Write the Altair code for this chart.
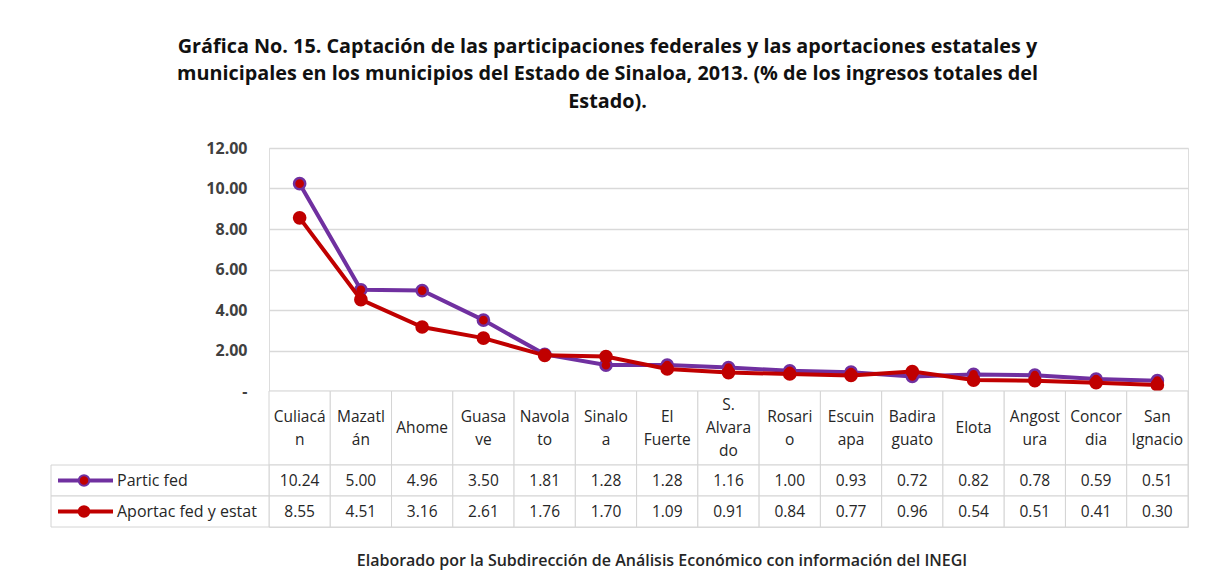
import altair as alt
import pandas as pd

# ---------------- data ----------------
categories = ["Culiacán", "Mazatlán", "Ahome", "Guasave", "Navolato", "Sinaloa",
              "El Fuerte", "S. Alvarado", "Rosario", "Escuinapa", "Badiraguato",
              "Elota", "Angostura", "Concordia", "San Ignacio"]
header_labels = ["Culiacá|n", "Mazatl|án", "Ahome", "Guasa|ve", "Navola|to", "Sinalo|a",
                 "El|Fuerte", "S.|Alvara|do", "Rosari|o", "Escuin|apa", "Badira|guato",
                 "Elota", "Angost|ura", "Concor|dia", "San|Ignacio"]
partic_fed = [10.24, 5.00, 4.96, 3.50, 1.81, 1.28, 1.28, 1.16, 1.00, 0.93, 0.72, 0.82, 0.78, 0.59, 0.51]
aportac_fed_estat = [8.55, 4.51, 3.16, 2.61, 1.76, 1.70, 1.09, 0.91, 0.84, 0.77, 0.96, 0.54, 0.51, 0.41, 0.30]
series_names = ["Partic fed", "Aportac fed y estat"]
series_colors = ["#7030A0", "#C00000"]
y_ticks = [0, 2, 4, 6, 8, 10, 12]
title_lines = [
    "Gráfica No. 15. Captación de las participaciones federales y las aportaciones estatales y",
    "municipales en los municipios del Estado de Sinaloa, 2013. (% de los ingresos totales del",
    "Estado).",
]
footer_text = "Elaborado por la Subdirección de Análisis Económico con información del INEGI"

# ---------------- tables ----------------
rows = []
for s, vals in zip(series_names, [partic_fed, aportac_fed_estat]):
    for c, v in zip(categories, vals):
        rows.append({"cat": c, "series": s, "value": v})
long_df = pd.DataFrame(rows)
hdr_df = pd.DataFrame({"cat": categories, "label": header_labels})
leg_df = pd.DataFrame({"series": series_names})
foot_df = pd.DataFrame({"t": [footer_text]})

FONT = "Open Sans"
W = 919
HDR_H = 74
LINE_H = 23
GRID = "#D9D9D9"
BORDER = "#D4D4D4"
TXT = "#262626"
MARKER_FILL = "#C00000"

xscale = alt.Scale(domain=categories, paddingInner=0, paddingOuter=0)
xenc = alt.X("cat:N", sort=categories, scale=xscale, axis=None)
color_scale = alt.Scale(domain=series_names, range=series_colors)

yenc = alt.Y(
    "value:Q",
    scale=alt.Scale(domain=[0, 12], nice=False),
    axis=alt.Axis(values=y_ticks,
                  labelExpr="datum.value == 0 ? '-' : format(datum.value, '.2f')",
                  grid=True, gridColor=GRID, gridWidth=1.5, domain=False, ticks=False,
                  labelPadding=22, labelFont=FONT, labelFontSize=16,
                  labelFontWeight="bold", labelColor="#404040", title=None),
)

base = alt.Chart(long_df)
layers = []
for name, col in zip(series_names, series_colors):
    b = base.transform_filter(alt.datum.series == name)
    layers.append(b.mark_line(color=col, strokeWidth=4).encode(x=xenc, y=yenc))
    layers.append(b.mark_point(shape="circle", filled=True, fill=MARKER_FILL, stroke=col,
                               strokeWidth=2.5, size=125, opacity=1).encode(x=xenc, y=yenc))
line_chart = alt.layer(*layers).properties(width=W, height=243)

# header row with municipality names (multi-line, vertically centred)
hdr_base = alt.Chart(hdr_df).transform_calculate(
    nlines="length(split(datum.label, '|'))"
).transform_calculate(
    ypos=f"{HDR_H / 2} - (datum.nlines - 1) * {LINE_H / 2}"
)
hdr_cells = hdr_base.mark_rect(fill="white", stroke=BORDER, strokeWidth=1).encode(
    x=xenc, y=alt.value(0), y2=alt.value(HDR_H))
hdr_text = hdr_base.mark_text(font=FONT, fontSize=15.5, lineBreak="|", lineHeight=LINE_H,
                              color=TXT, baseline="middle", align="center").encode(
    x=xenc, y=alt.Y("ypos:Q", scale=None, axis=None), text="label:N")
header_chart = alt.layer(hdr_cells, hdr_text).properties(width=W, height=HDR_H)

# data table rows
yrow = alt.Y("series:N", sort=series_names,
             scale=alt.Scale(type="band", domain=series_names, paddingInner=0, paddingOuter=0),
             axis=None)
tb = alt.Chart(long_df)
cells = tb.mark_rect(fill="white", stroke=BORDER, strokeWidth=1).encode(x=xenc, y=yrow)
vals = tb.mark_text(font=FONT, fontSize=15.5, color=TXT, baseline="middle").encode(
    x=xenc, y=yrow, text=alt.Text("value:Q", format=".2f"))
lg = alt.Chart(leg_df)
leg_cells = lg.mark_rect(fill="white", stroke=BORDER, strokeWidth=1).encode(
    x=alt.value(-218), x2=alt.value(0), y=yrow)
leg_lines = lg.mark_rule(strokeWidth=4).encode(
    x=alt.value(-211), x2=alt.value(-156), y=yrow,
    color=alt.Color("series:N", scale=color_scale, legend=None))
leg_pts = lg.mark_point(shape="circle", filled=True, fill=MARKER_FILL, strokeWidth=2,
                        size=110, opacity=1).encode(
    x=alt.value(-185), y=yrow,
    stroke=alt.Stroke("series:N", scale=color_scale, legend=None))
leg_text = lg.mark_text(font=FONT, fontSize=16, color=TXT, align="left", baseline="middle").encode(
    x=alt.value(-152), y=yrow, text="series:N")
footer = alt.Chart(foot_df).mark_text(font=FONT, fontSize=16, color=TXT, fontWeight=600,
                                      align="center", baseline="middle").encode(
    x=alt.value(393), y=alt.value(96), text="t:N")
table_chart = alt.layer(cells, vals, leg_cells, leg_lines, leg_pts, leg_text, footer).properties(
    width=W, height=62)

chart = alt.vconcat(line_chart, header_chart, table_chart, spacing=0, bounds="flush").properties(
    title=alt.TitleParams(title_lines, font=FONT, fontSize=19.8, fontWeight="bold",
                          lineHeight=27.5, color="#111111", anchor="middle", offset=28, dx=-12),
    padding={"left": 42, "top": 28, "right": 10, "bottom": 10},
).configure_view(strokeWidth=0).configure(background="white")

chart.save("out.html", embed_options={"renderer": "svg", "actions": False})
